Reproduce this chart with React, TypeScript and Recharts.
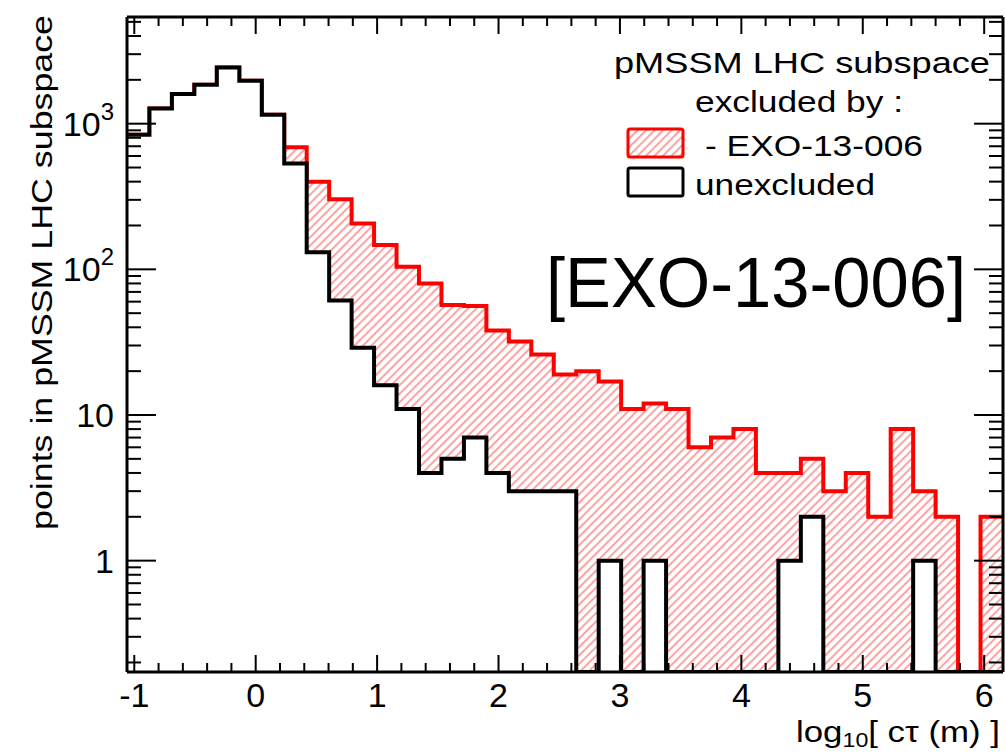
import React from 'react';
import { ComposedChart, Area, XAxis, YAxis } from 'recharts';

// histogram binning
const X_MIN = -1.06;
const BIN_WIDTH = 0.185;
const N_BINS = 39;
const X_MAX = X_MIN + N_BINS * BIN_WIDTH;
const Y_MIN = 0.172;
const Y_MAX = 5400;

// points per bin that are not excluded (black histogram)
const unexcluded = [
  840, 1270, 1600, 1850, 2430, 1970, 1150, 533, 131, 61,
  29, 16, 11, 4, 5, 7, 4, 3, 3, 3,
  0, 1, 0, 1, 0, 0, 0, 0, 0, 1,
  2, 0, 0, 0, 0, 1, 0, 0, 0,
];

// top of the stack: unexcluded + excluded by EXO-13-006 (red hatched)
const stackTotal = [
  840, 1270, 1600, 1850, 2430, 1970, 1150, 690, 399, 303,
  206, 147, 104, 80, 57, 56, 38, 32, 26, 19,
  20, 17, 11, 12, 11, 6, 7, 8, 4, 4,
  5, 3, 4, 2, 8, 3, 2, 0, 2,
];

const xMajorTicks = [-1, 0, 1, 2, 3, 4, 5, 6];
const yDecades = [1, 10, 100, 1000];
const yMinorMults = [2, 3, 4, 5, 6, 7, 8, 9];

const FONT = '"Liberation Sans", Arial, Helvetica, sans-serif';
const RED = '#ff0000';
const HATCH = '#ff4545';

// one row per bin edge; the last edge repeats the last bin so the step closes
const rows = Array.from({ length: N_BINS + 1 }, (_, i) => {
  const k = Math.min(i, N_BINS - 1);
  return {
    x: X_MIN + i * BIN_WIDTH,
    total: Math.max(stackTotal[k], Y_MIN),
    unexcl: Math.max(unexcluded[k], Y_MIN),
  };
});

// minor ticks every 0.2 plus the labelled integers
const xTicks: number[] = [];
for (let i = -5; i <= 30; i++) {
  const v = Math.round(i * 2) / 10;
  if (v >= X_MIN && v <= X_MAX) xTicks.push(v);
}

const yTicks: number[] = [];
[0.1, ...yDecades].forEach((d) => {
  if (d >= Y_MIN) yTicks.push(d);
  yMinorMults.forEach((m) => {
    const v = d * m;
    if (v >= Y_MIN && v <= Y_MAX) yTicks.push(v);
  });
});

const isMajorX = (v: number) => xMajorTicks.some((t) => Math.abs(v - t) < 1e-6);
const isDecade = (v: number) => yDecades.some((d) => Math.abs(v / d - 1) < 1e-6);

const BottomTick = (props: any) => {
  const { x, y, payload } = props;
  const major = isMajorX(payload.value);
  return (
    <g>
      <line x1={x} x2={x} y1={y} y2={y - (major ? 17 : 9)} stroke="#000" strokeWidth={2} />
      {major && (
        <text x={x} y={y + 35} textAnchor="middle" fontSize={34} fontFamily={FONT} fill="#000">
          {Math.round(payload.value)}
        </text>
      )}
    </g>
  );
};

const TopTick = (props: any) => {
  const { x, y, payload } = props;
  const major = isMajorX(payload.value);
  return <line x1={x} x2={x} y1={y} y2={y + (major ? 17 : 9)} stroke="#000" strokeWidth={2} />;
};

const LeftTick = (props: any) => {
  const { x, y, payload } = props;
  const v = payload.value;
  const major = isDecade(v);
  let label: React.ReactNode = null;
  if (major) {
    const exp = Math.round(Math.log10(v));
    label = (
      <text x={x - 13} y={y + 12} textAnchor="end" fontSize={34} fontFamily={FONT} fill="#000">
        {exp <= 0 ? '1' : '10'}
        {exp >= 2 && (
          <tspan dy={-16} fontSize={24}>
            {exp}
          </tspan>
        )}
      </text>
    );
  }
  return (
    <g>
      <line x1={x} x2={x + (major ? 29 : 14)} y1={y} y2={y} stroke="#000" strokeWidth={2} />
      {label}
    </g>
  );
};

const RightTick = (props: any) => {
  const { x, y, payload } = props;
  const major = isDecade(payload.value);
  return <line x1={x} x2={x - (major ? 29 : 14)} y1={y} y2={y} stroke="#000" strokeWidth={2} />;
};

const axisLine = { stroke: '#000', strokeWidth: 3 };

export default function App() {
  return (
    <div style={{ position: 'absolute', left: 0, top: 0, width: 1005, height: 753, background: '#fff' }}>
      <ComposedChart
        width={1005}
        height={753}
        data={rows}
        margin={{ top: 15, right: 0, bottom: 21, left: 27 }}
      >
        <defs>
          <pattern id="hatch" patternUnits="userSpaceOnUse" width={6} height={6} patternTransform="rotate(45)">
            <line x1={3} y1={0} x2={3} y2={6} stroke={HATCH} strokeWidth={1} />
          </pattern>
        </defs>
        <XAxis
          xAxisId="b"
          dataKey="x"
          type="number"
          domain={[X_MIN, X_MAX]}
          allowDataOverflow
          ticks={xTicks}
          interval={0}
          tickLine={false}
          tickSize={0}
          tickMargin={0}
          tick={BottomTick}
          axisLine={axisLine}
          height={60}
        />
        <XAxis
          xAxisId="t"
          orientation="top"
          dataKey="x"
          type="number"
          domain={[X_MIN, X_MAX]}
          allowDataOverflow
          ticks={xTicks}
          interval={0}
          tickLine={false}
          tickSize={0}
          tickMargin={0}
          tick={TopTick}
          axisLine={axisLine}
          height={2}
        />
        <YAxis
          yAxisId="l"
          type="number"
          scale="log"
          domain={[Y_MIN, Y_MAX]}
          allowDataOverflow
          ticks={yTicks}
          interval={0}
          tickLine={false}
          tickSize={0}
          tickMargin={0}
          tick={LeftTick}
          axisLine={axisLine}
          width={100}
        />
        <YAxis
          yAxisId="r"
          orientation="right"
          type="number"
          scale="log"
          domain={[Y_MIN, Y_MAX]}
          allowDataOverflow
          ticks={yTicks}
          interval={0}
          tickLine={false}
          tickSize={0}
          tickMargin={0}
          tick={RightTick}
          axisLine={axisLine}
          width={2}
        />
        <Area
          xAxisId="b"
          yAxisId="l"
          type="stepAfter"
          dataKey="total"
          baseValue={Y_MIN}
          stroke={RED}
          strokeWidth={4}
          fill="url(#hatch)"
          fillOpacity={1}
          dot={false}
          activeDot={false}
          isAnimationActive={false}
        />
        <Area
          xAxisId="t"
          yAxisId="r"
          type="stepAfter"
          dataKey="unexcl"
          baseValue={Y_MIN}
          stroke="#000"
          strokeWidth={4}
          fill="#fff"
          fillOpacity={1}
          dot={false}
          activeDot={false}
          isAnimationActive={false}
        />
      </ComposedChart>

      {/* titles, legend and analysis label */}
      <svg
        width={1005}
        height={753}
        style={{ position: 'absolute', left: 0, top: 0, pointerEvents: 'none' }}
        fontFamily={FONT}
      >
        <defs>
          <pattern id="hatchLeg" patternUnits="userSpaceOnUse" width={6} height={6} patternTransform="rotate(45)">
            <line x1={3} y1={0} x2={3} y2={6} stroke={HATCH} strokeWidth={1} />
          </pattern>
        </defs>
        <text
          transform="translate(52, 530) rotate(-90)"
          fontSize={30}
          textLength={515}
          lengthAdjust="spacingAndGlyphs"
          fill="#000"
        >
          points in pMSSM LHC subspace
        </text>
        <text x={796} y={742} fontSize={30} textLength={204} lengthAdjust="spacingAndGlyphs" fill="#000">
          log<tspan dy={5} fontSize={20}>10</tspan>
          <tspan dy={-5}>[ cτ (m) ]</tspan>
        </text>

        <text x={614} y={73} fontSize={30} textLength={376} lengthAdjust="spacingAndGlyphs" fill="#000">
          pMSSM LHC subspace
        </text>
        <text x={695} y={112} fontSize={30} textLength={208} lengthAdjust="spacingAndGlyphs" fill="#000">
          excluded by :
        </text>
        <rect x={628} y={129} width={55} height={28} rx={2} fill="url(#hatchLeg)" stroke={RED} strokeWidth={3} />
        <text x={705} y={156} fontSize={30} textLength={218} lengthAdjust="spacingAndGlyphs" fill="#000">
          - EXO-13-006
        </text>
        <rect x={628} y={168} width={55} height={28} rx={2} fill="#fff" stroke="#000" strokeWidth={3} />
        <text x={695} y={195} fontSize={30} textLength={180} lengthAdjust="spacingAndGlyphs" fill="#000">
          unexcluded
        </text>

        <text x={546} y={307} fontSize={70} textLength={420} lengthAdjust="spacingAndGlyphs" fill="#000">
          [EXO-13-006]
        </text>
      </svg>
    </div>
  );
}
